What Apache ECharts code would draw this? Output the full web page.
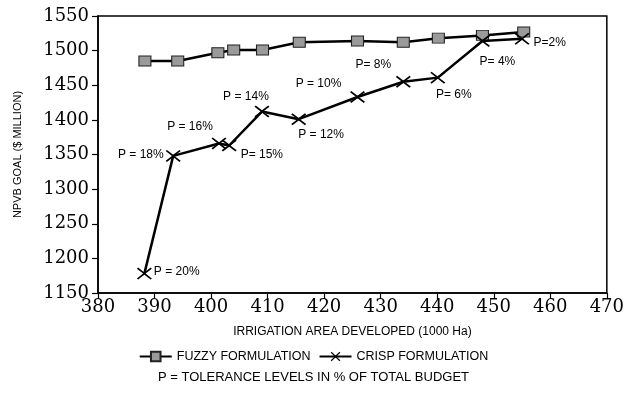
<!DOCTYPE html>
<html>
<head>
<meta charset="utf-8">
<script src="https://cdn.jsdelivr.net/npm/echarts@6/dist/echarts.min.js"></script>
<style>html,body{margin:0;padding:0;background:#fff;}#c{width:627px;height:395px;}</style>
</head>
<body>
<div id="c"></div>
<script>
// Data
var fuzzyX = [388.3, 394.1, 401.2, 404.0, 409.1, 415.6, 425.9, 434.0, 440.2, 448.0, 455.3];
var fuzzyY = [1485, 1485, 1497, 1501, 1501, 1512, 1514, 1512, 1518, 1522, 1527];
var crispX = [388.2, 393.3, 401.4, 403.2, 409.0, 415.5, 425.9, 434.0, 440.1, 448.0, 455.0];
var crispY = [1178, 1348, 1366, 1363, 1412, 1401, 1433, 1455, 1461, 1514, 1517];
var pLabels = ['P = 20%', 'P = 18%', 'P = 16%', 'P= 15%', 'P = 14%', 'P = 12%', 'P = 10%', 'P= 8%', 'P= 6%', 'P= 4%', 'P=2%'];
var xTicks = [380, 390, 400, 410, 420, 430, 440, 450, 460, 470];
var yTicks = [1150, 1200, 1250, 1300, 1350, 1400, 1450, 1500, 1550];

// label placement (styling only)
var labelPlace = [
  {position: 'right', offset: [-2, -2]},
  {position: 'left', offset: [2, -1]},
  {position: 'top', offset: [-29, -1]},
  {position: 'right', offset: [0, 9]},
  {position: 'top', offset: [-16, 1]},
  {position: 'right', offset: [-12, 16]},
  {position: 'top', offset: [-39, 3]},
  {position: 'top', offset: [-30, -1]},
  {position: 'bottom', offset: [16, 1]},
  {position: 'bottom', offset: [15, 5]},
  {position: 'right', offset: [0, 4]}
];

var crossPath = 'path://M0,1 L1,0 L6,4 L11,0 L12,1 L7,5 L12,9 L11,10 L6,6 L1,10 L0,9 L5,5 Z';

var chart = echarts.init(document.getElementById('c'), null, {renderer: 'canvas'});

var fuzzyData = fuzzyX.map(function (x, i) { return [x, fuzzyY[i]]; });
var crispData = crispX.map(function (x, i) {
  return {
    value: [x, crispY[i]],
    label: {
      show: true,
      formatter: pLabels[i],
      position: labelPlace[i].position,
      offset: labelPlace[i].offset,
      color: '#000',
      fontFamily: 'Liberation Sans',
      fontSize: 12,
      distance: 4
    }
  };
});

var serifFont = '"DejaVu Serif", "Liberation Serif", serif';

chart.setOption({
  backgroundColor: '#fff',
  animation: false,
  grid: {
    left: 98, right: 14, top: 16, bottom: 102,
    show: true, borderColor: '#000', borderWidth: 1.5, backgroundColor: 'transparent'
  },
  legend: {
    bottom: 27,
    left: 'center',
    itemWidth: 32,
    itemHeight: 12,
    itemGap: 8,
    textStyle: {color: '#000', fontFamily: 'Liberation Sans', fontSize: 12.5},
    data: ['FUZZY FORMULATION', 'CRISP FORMULATION']
  },
  graphic: [{
    type: 'text',
    left: 'center',
    top: 371,
    style: {
      text: 'P = TOLERANCE LEVELS IN % OF TOTAL BUDGET',
      fill: '#000',
      font: '13px "Liberation Sans"'
    }
  }],
  xAxis: {
    type: 'value',
    min: xTicks[0],
    max: xTicks[xTicks.length - 1],
    interval: 10,
    name: 'IRRIGATION AREA DEVELOPED (1000 Ha)',
    nameLocation: 'middle',
    nameGap: 33,
    nameTextStyle: {color: '#000', fontFamily: 'Liberation Sans', fontSize: 12},
    axisLine: {show: true, lineStyle: {color: '#000', width: 1.5}},
    axisTick: {show: true, length: 6, lineStyle: {color: '#000', width: 1.2}},
    axisLabel: {color: '#000', fontFamily: serifFont, fontSize: 18, margin: 5,
      formatter: function (v) { return String(v); }},
    splitLine: {show: false}
  },
  yAxis: {
    type: 'value',
    min: yTicks[0],
    max: yTicks[yTicks.length - 1],
    interval: 50,
    name: 'NPVB GOAL ($ MILLION)',
    nameLocation: 'middle',
    nameGap: 75,
    nameTextStyle: {color: '#000', fontFamily: 'Liberation Sans', fontSize: 11},
    axisLine: {show: true, lineStyle: {color: '#000', width: 1.5}},
    axisTick: {show: true, length: 6, lineStyle: {color: '#000', width: 1.2}},
    axisLabel: {color: '#000', fontFamily: serifFont, fontSize: 18, margin: 9,
      formatter: function (v) { return String(v); }},
    splitLine: {show: false}
  },
  series: [{
    name: 'FUZZY FORMULATION',
    type: 'line',
    data: fuzzyData,
    symbol: 'rect',
    symbolSize: [12, 10],
    lineStyle: {color: '#000', width: 2.5},
    itemStyle: {color: '#9a9a9a', borderColor: '#222', borderWidth: 1},
    z: 3
  }, {
    name: 'CRISP FORMULATION',
    type: 'line',
    data: crispData,
    symbol: crossPath,
    symbolSize: [15, 12],
    lineStyle: {color: '#000', width: 2.5},
    itemStyle: {color: '#000'},
    z: 4
  }]
});
</script>
</body>
</html>
